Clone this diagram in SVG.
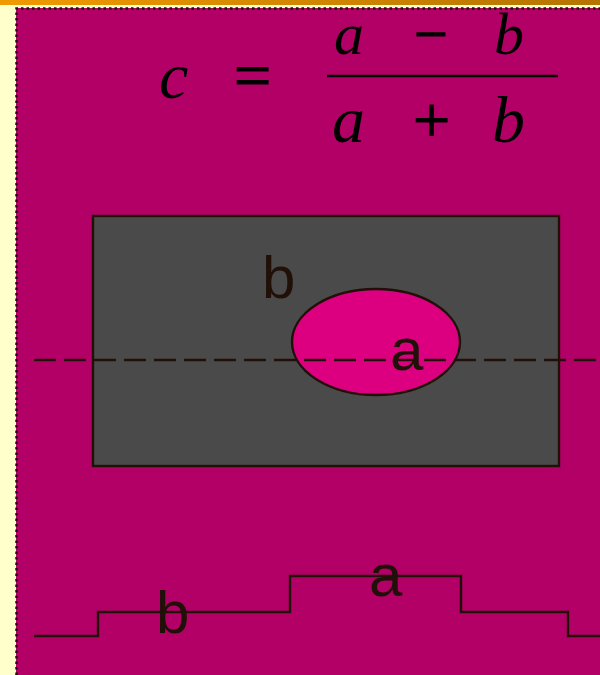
<svg xmlns="http://www.w3.org/2000/svg" width="600" height="675" viewBox="0 0 600 675">
<defs>
<linearGradient id="bar" x1="0" y1="0" x2="1" y2="0">
<stop offset="0" stop-color="#F09A00"/>
<stop offset="1" stop-color="#B47400"/>
</linearGradient>
<style>
.ln{stroke:#201008;stroke-width:2.4;fill:none}
.lbl{font-family:"Liberation Sans",Arial,sans-serif;font-size:60px;fill:#201008}
.eq{font-family:"Liberation Serif","Times New Roman",serif;font-size:66px;fill:#000}
.num{font-size:60px}
.op{stroke:#000;stroke-width:1.2}
.it{font-style:italic}
</style>
</defs>
<rect x="0" y="0" width="600" height="675" fill="#FFFFCC"/>
<rect x="0" y="0" width="600" height="5" fill="url(#bar)"/>
<rect x="16" y="8" width="584" height="667" fill="#B30066"/>
<path d="M16.5 675 V8.5 H600" fill="none" stroke="#201008" stroke-width="2.5" stroke-dasharray="2.5 3"/>
<g id="formula">
<text class="eq it" x="159" y="98">c</text>
<text class="eq op" x="234" y="98">=</text>
<line x1="327" y1="76" x2="558" y2="76" stroke="#000" stroke-width="2.4"/>
<text class="eq num it" x="334" y="54">a</text>
<text class="eq num op" x="414" y="54">−</text>
<text class="eq num it" x="494" y="54">b</text>
<text class="eq it" x="332" y="142">a</text>
<text class="eq op" x="413" y="142">+</text>
<text class="eq it" x="492" y="142">b</text>
</g>
<g id="rect-b">
<rect x="93" y="216" width="466" height="250" class="ln" style="fill:#4A4A4A"/>
<text class="lbl" x="262" y="298">b</text>
</g>
<g id="ellipse-a">
<ellipse cx="376" cy="342" rx="84" ry="53" fill="#DC0080" stroke="#201008" stroke-width="2.4"/>
<text class="lbl" x="390" y="370">a</text>
</g>
<g id="connectors">
<line x1="34" y1="360" x2="600" y2="360" class="ln" stroke-dasharray="22 8"/>
<path class="ln" d="M34 636 H98 V612 H290 V576 H461 V612 H568 V636 H600"/>
</g>
<g id="profile-labels">
<text class="lbl" x="156" y="633">b</text>
<text class="lbl" x="369" y="596">a</text>
</g>
</svg>
